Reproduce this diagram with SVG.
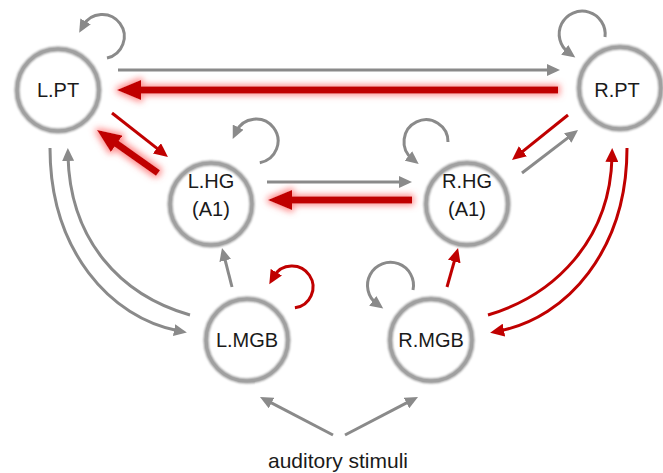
<svg xmlns="http://www.w3.org/2000/svg" width="663" height="473" viewBox="0 0 663 473">
<style>
.ring{fill:none;stroke:#9a9a9a;stroke-width:5;filter:url(#soft)}
.edge{fill:none;stroke:#a0a0a0;stroke-width:2.5}
.disc{fill:#fff}
.lbl{font-family:"Liberation Sans",Arial,sans-serif;font-size:20px;fill:#1a1a1a;text-anchor:middle}
.g{fill:none;stroke:#8a8a8a;stroke-width:3;marker-end:url(#hg)}
.r{fill:none;stroke:#c00000;stroke-width:3;marker-end:url(#hr)}
.R{fill:none;stroke:#c00000;stroke-width:7;marker-end:url(#hR)}
.glow{filter:url(#glow)}
</style>
<defs>
<filter id="soft" filterUnits="userSpaceOnUse" x="0" y="0" width="663" height="473"><feGaussianBlur stdDeviation="1.3"/></filter>
<filter id="glow" filterUnits="userSpaceOnUse" x="0" y="0" width="663" height="473">
<feMorphology in="SourceAlpha" operator="dilate" radius="2" result="d"/>
<feGaussianBlur in="d" stdDeviation="3" result="b"/>
<feFlood flood-color="#ff6a6a" flood-opacity="0.75"/>
<feComposite in2="b" operator="in" result="c"/>
<feMerge><feMergeNode in="c"/><feMergeNode in="SourceGraphic"/></feMerge>
</filter>
<marker id="hg" markerUnits="userSpaceOnUse" markerWidth="14" markerHeight="12" refX="5" refY="6" orient="auto"><path d="M0,0 L13,6 L0,12 z" fill="#8a8a8a"/></marker>
<marker id="hr" markerUnits="userSpaceOnUse" markerWidth="15" markerHeight="13" refX="5" refY="6.5" orient="auto"><path d="M0,0 L14,6.5 L0,13 z" fill="#c00000"/></marker>
<marker id="hR" markerUnits="userSpaceOnUse" markerWidth="25" markerHeight="20" refX="8" refY="10" orient="auto"><path d="M0,0 L24,10 L0,20 z" fill="#c00000"/></marker>
</defs>
<rect width="663" height="473" fill="#fff"/>
<g id="connectors">
<path class="g" d="M118,70 H552"/>
<g class="glow"><path class="R" d="M558,90 H133"/></g>
<path class="r" d="M112,113 L160.9,151.4"/>
<g class="glow"><path class="R" d="M158,173 L110.1,139.2"/></g>
<path class="g" d="M267,182 H404"/>
<g class="glow"><path class="R" d="M412,200 H284"/></g>
<path class="r" d="M568,115 L519,154.4"/>
<path class="g" d="M522,173 L571.7,134.9"/>
<path class="g" d="M50,148 C50,250 110,318 179,331"/>
<path class="g" d="M190,315 C120,295 70,240 68,156"/>
<path class="g" d="M232,287 L224,255.7"/>
<path class="r" d="M294.9,307.8 A21,21 0 1 0 273.8,276.5"/>
<path class="g" d="M107,58 A22,22 0 1 0 83.1,25.7"/>
<path class="g" d="M259.8,162.7 A22,22 0 1 0 236.1,131.7"/>
<path class="g" d="M605,37 A23,23 0 1 0 568.8,52.8"/>
<path class="g" d="M448,142 A22,22 0 1 0 412.4,159"/>
<path class="g" d="M413,290 A23,23 0 1 0 376.8,303.8"/>
<path class="r" d="M447,287 L455.6,256.7"/>
<path class="r" d="M488,315 C555,295 610,240 612,157"/>
<path class="r" d="M627,148 C627,250 567,318 499,331"/>
<path class="g" d="M333,435 L267.1,400.7"/>
<path class="g" d="M345,435 L410.9,400.7"/>
</g>
<g id="LPT"><circle class="disc" cx="58" cy="90" r="42"/><circle class="ring" cx="58" cy="90" r="41"/><circle class="edge" cx="58" cy="90" r="41"/><text class="lbl" x="58" y="97">L.PT</text></g>
<g id="RPT"><circle class="disc" cx="620" cy="88" r="42"/><circle class="ring" cx="620" cy="88" r="41"/><circle class="edge" cx="620" cy="88" r="41"/><text class="lbl" x="617" y="97">R.PT</text></g>
<g id="LHG"><circle class="disc" cx="211" cy="204" r="42"/><circle class="ring" cx="211" cy="204" r="41"/><circle class="edge" cx="211" cy="204" r="41"/><text class="lbl" x="211" y="188">L.HG</text><text class="lbl" x="211" y="216">(A1)</text></g>
<g id="RHG"><circle class="disc" cx="467" cy="204" r="42"/><circle class="ring" cx="467" cy="204" r="41"/><circle class="edge" cx="467" cy="204" r="41"/><text class="lbl" x="467" y="188">R.HG</text><text class="lbl" x="467" y="216">(A1)</text></g>
<g id="LMGB"><circle class="disc" cx="247" cy="340" r="42"/><circle class="ring" cx="247" cy="340" r="41"/><circle class="edge" cx="247" cy="340" r="41"/><text class="lbl" x="247" y="347">L.MGB</text></g>
<g id="RMGB"><circle class="disc" cx="431" cy="340" r="42"/><circle class="ring" cx="431" cy="340" r="41"/><circle class="edge" cx="431" cy="340" r="41"/><text class="lbl" x="431" y="347">R.MGB</text></g>
<g id="stimuli"><text class="lbl" x="338" y="468" style="font-size:21px">auditory stimuli</text></g>
</svg>
